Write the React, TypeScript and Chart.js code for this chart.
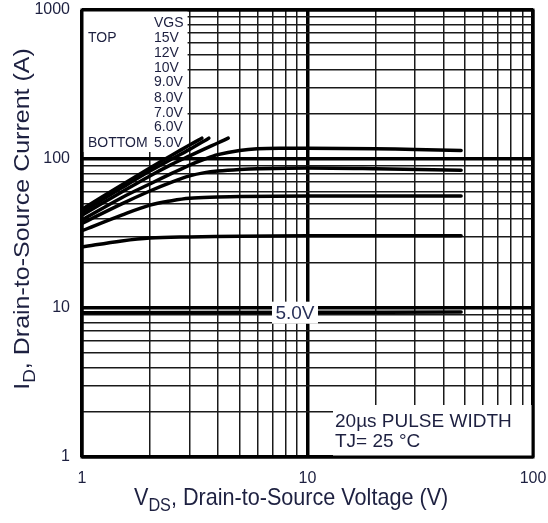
import React, { useEffect, useRef } from "react";
import Chart from "chart.js/auto";

const FONT = '"Liberation Sans", Arial, Helvetica, sans-serif';
const TEXT_COLOR = "#1d2040";

const X_TICKS = [1, 2, 3, 4, 5, 6, 7, 8, 9, 10, 20, 30, 40, 50, 60, 70, 80, 90, 100];
const Y_TICKS = [
  1, 2, 3, 4, 5, 6, 7, 8, 9, 10, 20, 30, 40, 50, 60, 70, 80, 90, 100, 200, 300, 400, 500,
  600, 700, 800, 900, 1000,
];
const TICK_LABELS = ["1", "10", "100", "1000"];

const LEGEND_LABELS = ["15V", "12V", "10V", "9.0V", "8.0V", "7.0V", "6.0V", "5.0V"];

// V_DS (V) and I_D (A) for each V_GS curve
const VDS_15V = [1, 1.5, 2, 2.5, 3, 3.4];
const ID_15V = [46, 67, 87, 106, 124, 138];
const VDS_12V = [1, 1.5, 2, 2.5, 3, 3.65];
const ID_12V = [44, 64, 83, 100, 116, 138];
const VDS_10V = [1, 1.5, 2, 2.5, 3, 3.5, 4, 4.45];
const ID_10V = [42, 60, 77, 92, 105, 117, 128, 138];
const VDS_9V = [1, 1.5, 2, 2.5, 3, 3.5, 4, 5, 6, 8, 10, 20, 30, 48];
const ID_9V = [39, 55, 68, 80, 91, 100, 107, 114, 117, 118, 118, 117, 116, 114];
const VDS_8V = [1, 1.5, 2, 2.5, 3, 3.5, 4, 5, 6, 10, 20, 48];
const ID_8V = [37, 50, 61, 70, 77, 81, 83, 85, 86, 87, 86, 84];
const VDS_7V = [1, 1.5, 2, 2.5, 3, 4, 5, 10, 20, 48];
const ID_7V = [33, 42, 49, 52.5, 54.5, 55.5, 56, 56.5, 56.5, 56.5];
const VDS_6V = [1, 1.5, 2, 3, 5, 10, 48];
const ID_6V = [25.7, 28.2, 29.5, 30, 30.3, 30.5, 30.5];
const VDS_5V = [1, 10, 48];
const ID_5V = [9.3, 9.35, 9.4];

const isPow10 = (v: number) => {
  const l = Math.log10(v);
  return Math.abs(l - Math.round(l)) < 1e-9;
};

const pts = (xs: number[], ys: number[]) => xs.map((x, i) => ({ x, y: ys[i] }));

const overlayPlugin = {
  id: "overlay",
  beforeDatasetsDraw(chart: any) {
    const { ctx, chartArea: a } = chart;
    const xs = chart.scales.x;
    ctx.save();
    ctx.fillStyle = "#fff";
    // legend area (covers grid)
    ctx.fillRect(a.left, a.top, xs.getPixelForValue(3) - a.left - 2, 142);
    // pulse width note box
    ctx.fillRect(a.left + 251, a.bottom - 52, a.right - a.left - 251, 52);
    ctx.restore();
  },
  afterDatasetsDraw(chart: any) {
    const { ctx, chartArea: a } = chart;
    const xs = chart.scales.x;
    const ys = chart.scales.y;
    ctx.save();
    // 5.0V label on the bottom curve
    const lx = xs.getPixelForValue(8.8);
    const ly = ys.getPixelForValue(9.3);
    ctx.fillStyle = "#fff";
    ctx.fillRect(lx - 23, ly - 11, 46, 22);
    ctx.fillStyle = "#283058";
    ctx.font = `19px ${FONT}`;
    ctx.textAlign = "center";
    ctx.textBaseline = "middle";
    ctx.fillText("5.0V", lx, ly + 1);

    // legend text
    ctx.fillStyle = TEXT_COLOR;
    ctx.font = `14px ${FONT}`;
    ctx.textAlign = "left";
    ctx.textBaseline = "middle";
    const vx = a.left + 72;
    ctx.fillText("VGS", vx, a.top + 13);
    ctx.fillText("TOP", a.left + 6, a.top + 28);
    const rowY = [28, 43, 58, 72, 88, 103, 117, 133];
    LEGEND_LABELS.forEach((t, i) => ctx.fillText(t, vx, a.top + rowY[i]));
    ctx.fillText("BOTTOM", a.left + 6, a.top + 133);

    // pulse note
    ctx.font = `19px ${FONT}`;
    ctx.fillText("20\u00b5s PULSE WIDTH", a.left + 253, a.bottom - 35);
    ctx.fillText("TJ= 25 \u00b0C", a.left + 253, a.bottom - 15);

    // frame
    ctx.strokeStyle = "#000";
    ctx.lineWidth = 3;
    ctx.strokeRect(a.left, a.top, a.right - a.left, a.bottom - a.top);
    ctx.restore();
  },
  afterDraw(chart: any) {
    const { ctx } = chart;
    ctx.save();
    ctx.fillStyle = TEXT_COLOR;
    ctx.textAlign = "left";
    ctx.textBaseline = "alphabetic";
    // x axis title
    {
      ctx.save();
      const big = `24px ${FONT}`;
      const small = `18px ${FONT}`;
      ctx.translate(134, 505);
      ctx.scale(0.9, 1);
      let x = 0;
      ctx.font = big;
      ctx.fillText("V", x, 0);
      x += ctx.measureText("V").width;
      ctx.font = small;
      ctx.fillText("DS", x, 6);
      x += ctx.measureText("DS").width;
      ctx.font = big;
      ctx.fillText(", Drain-to-Source Voltage (V)", x, 0);
      ctx.restore();
    }
    // y axis title
    {
      ctx.save();
      const big = `25px ${FONT}`;
      const small = `19px ${FONT}`;
      ctx.font = big;
      const w1 = ctx.measureText("I").width;
      const w3 = ctx.measureText(", Drain-to-Source Current (A)").width;
      ctx.font = small;
      const w2 = ctx.measureText("D").width;
      const total = w1 + w2 + w3;
      const cy = 219;
      ctx.translate(29, cy + total / 2);
      ctx.rotate(-Math.PI / 2);
      ctx.scale(1, 0.88);
      let x = 0;
      ctx.font = big;
      ctx.fillText("I", x, 0);
      x += w1;
      ctx.font = small;
      ctx.fillText("D", x, 7);
      x += w2;
      ctx.font = big;
      ctx.fillText(", Drain-to-Source Current (A)", x, 0);
      ctx.restore();
    }
    ctx.restore();
  },
};

const gridWidth = (c: any) => (c.tick && isPow10(c.tick.value) ? 3.5 : 1.5);
const gridColor = (c: any) => (c.tick && isPow10(c.tick.value) ? "#000" : "#1a1a1a");
const tickCb = (v: any) => {
  const s = String(v);
  return TICK_LABELS.includes(s) ? s : "";
};

export default function App() {
  const ref = useRef<HTMLCanvasElement | null>(null);
  useEffect(() => {
    if (!ref.current) return;
    const series = [
      [VDS_15V, ID_15V],
      [VDS_12V, ID_12V],
      [VDS_10V, ID_10V],
      [VDS_9V, ID_9V],
      [VDS_8V, ID_8V],
      [VDS_7V, ID_7V],
      [VDS_6V, ID_6V],
      [VDS_5V, ID_5V],
    ];
    const chart = new Chart(ref.current, {
      type: "line",
      data: {
        datasets: series.map((s, i) => ({
          label: LEGEND_LABELS[i],
          data: pts(s[0], s[1]),
          borderColor: "#000",
          borderWidth: 3.5,
          pointRadius: 0,
          tension: 0.35,
          borderCapStyle: "round",
          fill: false,
        })),
      },
      options: {
        responsive: false,
        animation: false,
        events: [],
        layout: { padding: { top: 10, right: 15, left: 0, bottom: 0 } },
        plugins: {
          legend: { display: false },
          tooltip: { enabled: false },
          title: { display: false },
        },
        scales: {
          x: {
            type: "logarithmic",
            min: 1,
            max: 100,
            afterBuildTicks: (s: any) => {
              s.ticks = X_TICKS.map((v) => ({ value: v }));
            },
            afterFit: (s: any) => {
              s.height = 66;
              s.paddingLeft = 0;
              s.paddingRight = 0;
            },
            border: { display: false },
            grid: { color: gridColor, lineWidth: gridWidth, drawTicks: false },
            ticks: {
              autoSkip: false,
              maxRotation: 0,
              padding: 12,
              color: TEXT_COLOR,
              font: { size: 16, family: FONT },
              callback: tickCb,
            },
          },
          y: {
            type: "logarithmic",
            min: 1,
            max: 1000,
            afterBuildTicks: (s: any) => {
              s.ticks = Y_TICKS.map((v) => ({ value: v }));
            },
            afterFit: (s: any) => {
              s.width = 82;
              s.paddingTop = 0;
              s.paddingBottom = 0;
            },
            border: { display: false },
            grid: { color: gridColor, lineWidth: gridWidth, drawTicks: false },
            ticks: {
              autoSkip: false,
              padding: 12,
              color: TEXT_COLOR,
              font: { size: 16, family: FONT },
              callback: tickCb,
            },
          },
        },
      } as any,
      plugins: [overlayPlugin],
    });
    return () => chart.destroy();
  }, []);
  return (
    <div style={{ position: "absolute", left: 0, top: 0, width: 548, height: 523, background: "#fff" }}>
      <canvas ref={ref} width={548} height={523} style={{ display: "block" }} />
    </div>
  );
}
